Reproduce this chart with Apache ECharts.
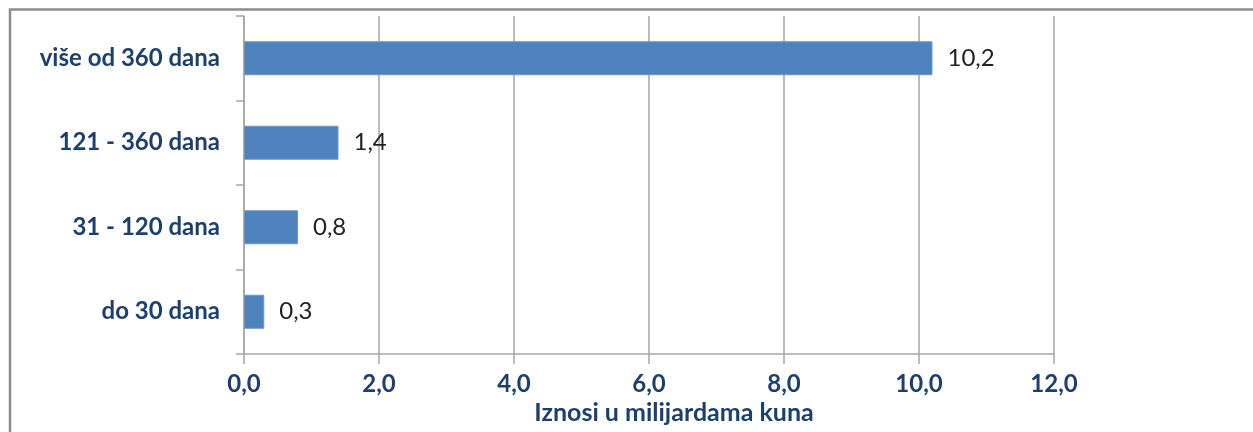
<!DOCTYPE html>
<html>
<head>
<meta charset="utf-8">
<script src="https://cdn.jsdelivr.net/npm/echarts@6/dist/echarts.min.js"></script>
<style>
  html, body { margin: 0; padding: 0; background: #fff; }
  #chart { width: 1253px; height: 432px; }
</style>
</head>
<body>
<div id="chart"></div>
<script>
// kategorije (odozgo prema dolje) i iznosi u milijardama kuna
const categories = ["više od 360 dana", "121 - 360 dana", "31 - 120 dana", "do 30 dana"];
const amounts = [10.2, 1.4, 0.8, 0.3];
const axisName = "Iznosi u milijardama kuna";

const navy = "#1b3f6e";
const fmt = v => v.toFixed(1).replace(".", ",");

const chart = echarts.init(document.getElementById("chart"));
chart.setOption({
  animation: false,
  textStyle: { fontFamily: "Lato" },
  grid: { left: 244, right: 199, top: 16, bottom: 78, outerBoundsMode: "none", containLabel: false },
  // okvir oko slike
  graphic: [{
    type: "polyline",
    shape: { points: [[10, 432], [10, 9.5], [1253, 9.5]] },
    style: { stroke: "#8c8c8c", lineWidth: 2.5, fill: null }
  }],
  xAxis: {
    type: "value",
    min: 0,
    max: 12,
    interval: 2,
    name: axisName,
    nameLocation: "middle",
    nameGap: 46,
    nameTextStyle: { color: navy, fontSize: 25, fontWeight: "bold", padding: [0, 0, 0, 50] },
    axisLine: { show: true, lineStyle: { color: "#a6a6a6", width: 1.5 } },
    axisTick: { show: true, length: 10, lineStyle: { color: "#a6a6a6", width: 1.5 } },
    axisLabel: { color: navy, fontSize: 24, fontWeight: "bold", margin: 18, formatter: fmt },
    splitLine: { show: true, lineStyle: { color: "#a6a6a6", width: 1.5 } }
  },
  yAxis: {
    type: "category",
    inverse: true,
    data: categories,
    axisLine: { show: true, lineStyle: { color: "#a6a6a6", width: 1.5 } },
    axisTick: { show: true, length: 8, lineStyle: { color: "#a6a6a6", width: 1.5 } },
    axisLabel: { color: navy, fontSize: 24, fontWeight: "bold", margin: 24 }
  },
  series: [{
    type: "bar",
    data: amounts,
    barWidth: 34,
    itemStyle: { color: "#4f81bd", borderColor: "#6f97cc", borderWidth: 1 },
    label: {
      show: true,
      position: "right",
      distance: 15,
      color: "#222",
      fontSize: 24,
      padding: [4, 0, 0, 0],
      formatter: p => fmt(p.value)
    }
  }]
});
</script>
</body>
</html>
